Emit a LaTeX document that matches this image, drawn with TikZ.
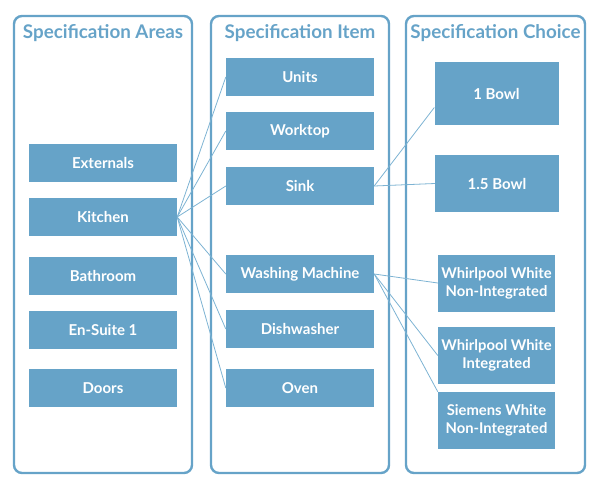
\documentclass[tikz,border=0pt]{standalone}
\usepackage{fontspec}
\setmainfont{Lato}
\usetikzlibrary{positioning}
\definecolor{specblue}{HTML}{66A3C8}
\definecolor{linkblue}{HTML}{7DB3D3}
\tikzset{
  panel/.style={draw=specblue, line width=2.4pt, rounded corners=8pt, minimum width=178pt, minimum height=457pt, fill=none},
  paneltitle/.style={text=specblue, font=\fontsize{18.8}{22}\selectfont\bfseries},
  item/.style={fill=specblue, minimum width=148pt, minimum height=38pt, text=white, align=center, font=\fontsize{15}{18}\selectfont\bfseries},
  choice/.style={fill=specblue, minimum width=124pt, minimum height=57pt, text=white, align=center, font=\fontsize{15}{18}\selectfont\bfseries},
  wchoice/.style={fill=specblue, minimum width=117pt, minimum height=57pt, text=white, align=center, inner xsep=1pt, font=\fontsize{14.8}{17.8}\selectfont\bfseries},
  link/.style={draw=linkblue, line width=0.8pt}
}

\begin{document}
\begin{tikzpicture}[x=1pt, y=-1pt]
  \useasboundingbox (0,0) rectangle (600,499);
  % panels
  \node[panel] (areas) at (103,244.5) {};
  \node[panel] (items) at (300,244.5) {};
  \node[panel, minimum width=179pt] (choices) at (495.5,244.5) {};
  \node[paneltitle] (areast) at (103,33) {Specification Areas};
  \node[paneltitle] (itemst) at (300,33) {Specification Item};
  \node[paneltitle] (choicest) at (495.5,33) {Specification Choice};
  % areas
  \node[item] (externals) at (103,162.5) {Externals};
  \node[item] (kitchen) at (103,217) {Kitchen};
  \node[item] (bathroom) at (103,276) {Bathroom};
  \node[item] (ensuite) at (103,330) {En-Suite 1};
  \node[item] (doors) at (103,388) {Doors};
  % items
  \node[item] (units) at (300,77) {Units};
  \node[item] (worktop) at (300,131) {Worktop};
  \node[item] (sink) at (300,186) {Sink};
  \node[item] (washing) at (300,274) {Washing Machine};
  \node[item] (dishwasher) at (300,329) {Dishwasher};
  \node[item] (oven) at (300,388) {Oven};
  % choices
  \node[choice, minimum height=63pt] (bowlone) at (496.5,93.5) {1 Bowl};
  \node[choice] (bowlhalf) at (497,183.5) {1.5 Bowl};
  \node[wchoice] (whirlni) at (496.5,283) {Whirlpool White\\Non-Integrated};
  \node[wchoice] (whirlint) at (496.5,355.5) {Whirlpool White\\Integrated};
  \node[wchoice] (siemens) at (496.5,420.5) {Siemens White\\Non-Integrated};
  % links
  \foreach \n in {units,worktop,sink,washing,dishwasher,oven}
    \draw[link] (kitchen.east) -- (\n.west);
  \draw[link] (sink.east) -- ([yshift=-14pt]bowlone.west);
  \draw[link] (sink.east) -- (bowlhalf.west);
  \draw[link] (washing.east) -- (whirlni.west);
  \draw[link] (washing.east) -- (whirlint.west);
  \draw[link] (washing.east) -- (siemens.north west);
\end{tikzpicture}
\end{document}
